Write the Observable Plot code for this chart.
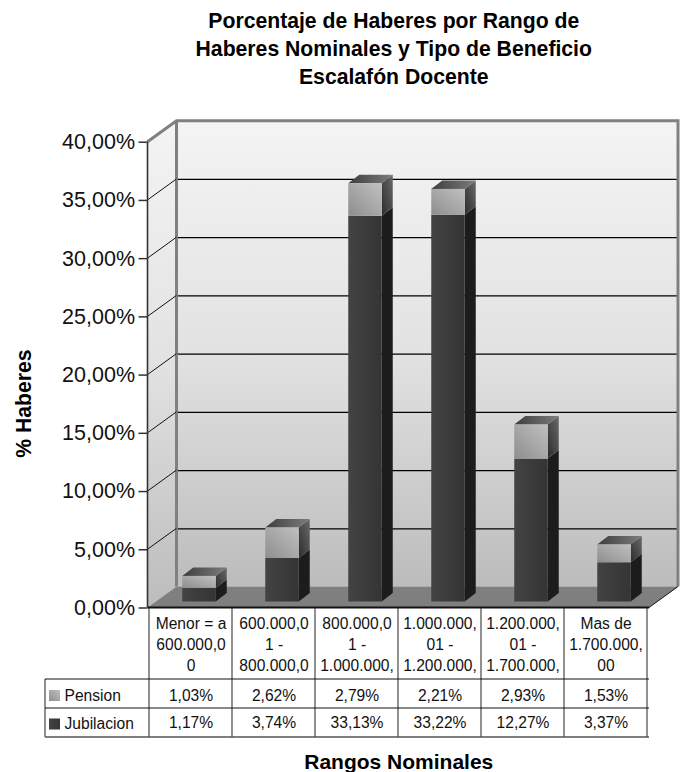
<!DOCTYPE html>
<html>
<head>
<meta charset="utf-8">
<style>
html,body{margin:0;padding:0;background:#fff;}
svg{display:block;}
</style>
<script src="https://cdn.jsdelivr.net/npm/d3@7"></script>
<script src="https://cdn.jsdelivr.net/npm/@observablehq/plot@0.6"></script>
</head>
<body>
<div id="chart"></div>
<script>
const categories = [
  "Menor = a\n600.000,0\n0",
  "600.000,0\n1 -\n800.000,0",
  "800.000,0\n1 -\n1.000.000,",
  "1.000.000,\n01 -\n1.200.000,",
  "1.200.000,\n01 -\n1.700.000,",
  "Mas de\n1.700.000,\n00"
];
const pension = [1.03, 2.62, 2.79, 2.21, 2.93, 1.53];
const jubilacion = [1.17, 3.74, 33.13, 33.22, 12.27, 3.37];
const seriesNames = ["Jubilacion", "Pension"];
const yTicks = [0, 5, 10, 15, 20, 25, 30, 35, 40];
const titleText = "Porcentaje de Haberes por Rango de\nHaberes Nominales y Tipo de Beneficio\nEscalafón Docente";
const yTitle = "% Haberes";
const xTitle = "Rangos Nominales";

const rows = [
  ...categories.map((c, i) => ({cat: c, serie: "Jubilacion", value: jubilacion[i]})),
  ...categories.map((c, i) => ({cat: c, serie: "Pension", value: pension[i]}))
];
const fmtPct = v => v.toFixed(2).replace(".", ",") + "%";

const FONT = "'Liberation Sans', Arial, sans-serif";
const NS = "http://www.w3.org/2000/svg";
const wallDx = 29, wallDy = -21;
const barDx = 8.5, barDy = -6, depthX = 11, depthY = -8.5, barInset = 24.75;
const rowLines = [71.5, 100.5, 129.5];   // table row rules, below the baseline
const legendLeft = 102.5;                // table's legend column, left of the frame

function el(tag, attrs, parent) {
  const e = document.createElementNS(NS, tag);
  for (const k in attrs) e.setAttribute(k, attrs[k]);
  if (parent) parent.appendChild(e);
  return e;
}
function gradient(defs, id, x1, y1, x2, y2, stops) {
  const g = el("linearGradient", {id, x1, y1, x2, y2}, defs);
  stops.forEach(([o, c]) => el("stop", {offset: o, "stop-color": c}, g));
}
const pts = a => a.map(p => p.join(",")).join(" ");

// Walls and floor of the 3D box, derived from the plot's frame.
function box(index, scales, values, dim) {
  const g = el("g", {});
  const defs = el("defs", {}, g);
  gradient(defs, "wall", 0, 0, 0, 1, [[0, "#f4f4f4"], [0.5, "#e2e2e2"], [1, "#bcbcbc"]]);
  gradient(defs, "gJub", 0, 0, 1, 0, [[0, "#434343"], [1, "#343434"]]);
  gradient(defs, "gPen", 0, 1, 1, 0, [[0, "#8e8e8e"], [1, "#c0c0c0"]]);
  gradient(defs, "gSide", 0, 1, 1, 0, [[0, "#2c2c2c"], [1, "#6a6a6a"]]);
  gradient(defs, "gTop", 0, 0, 1, 0, [[0, "#3e3e3e"], [1, "#7c7c7c"]]);
  const l = dim.marginLeft, r = dim.width - dim.marginRight;
  const t = dim.marginTop, b = dim.height - dim.marginBottom;
  el("rect", {x: l + wallDx, y: t + wallDy, width: r - l, height: b - t, fill: "url(#wall)"}, g);
  el("polygon", {points: pts([[l, b], [l + wallDx, b + wallDy], [l + wallDx, t + wallDy], [l, t]]), fill: "url(#wall)"}, g);
  el("polygon", {points: pts([[l, b], [r, b], [r + wallDx, b + wallDy], [l + wallDx, b + wallDy]]), fill: "#7f7f7f"}, g);
  return g;
}
// Frame edges and slanted gridlines on the left wall, over the wall and grid.
function boxLines(index, scales, values, dim) {
  const g = el("g", {});
  const l = dim.marginLeft, r = dim.width - dim.marginRight;
  const t = dim.marginTop, b = dim.height - dim.marginBottom;
  const edge = {fill: "none", stroke: "#808080", "stroke-width": 3};
  el("polyline", {points: pts([[l, t], [l + wallDx, t + wallDy], [r + wallDx, t + wallDy], [r + wallDx, b + wallDy]]), ...edge}, g);
  el("line", {x1: l + wallDx, y1: t + wallDy, x2: l + wallDx, y2: b + wallDy, ...edge}, g);
  yTicks.slice(1, -1).forEach(v => {
    const y = scales.y(v);
    el("line", {x1: l, y1: y, x2: l + wallDx, y2: y + wallDy, stroke: "#111", "stroke-width": 1}, g);
  });
  el("line", {x1: r, y1: b, x2: r + wallDx, y2: b + wallDy, stroke: "#111", "stroke-width": 1}, g);
  el("line", {x1: l, y1: t, x2: l, y2: b, stroke: "#333", "stroke-width": 1.6}, g);
  return g;
}
// Side and top faces, taken from each bar the library drew.
function faces(index, scales, values, dim, context, next) {
  const g = next(index, scales, values, dim, context);
  Array.from(g.querySelectorAll("rect")).forEach(rect => {
    const x = +rect.getAttribute("x"), y = +rect.getAttribute("y");
    const w = +rect.getAttribute("width"), h = +rect.getAttribute("height");
    const isPension = rect.getAttribute("fill") === "url(#gPen)";
    const side = el("polygon", {
      points: pts([[x + w, y], [x + w + depthX, y + depthY], [x + w + depthX, y + h + depthY], [x + w, y + h]]),
      fill: isPension ? "url(#gSide)" : "#1c1c1c"
    });
    g.insertBefore(side, rect);
    if (isPension) {
      const top = el("polygon", {
        points: pts([[x, y], [x + w, y], [x + w + depthX, y + depthY], [x + depthX, y + depthY]]),
        fill: "url(#gTop)"
      });
      g.insertBefore(top, rect);
    }
  });
  return g;
}
// Table rules and legend swatches.
function table(index, scales, values, dim) {
  const g = el("g", {});
  const l = dim.marginLeft, r = dim.width - dim.marginRight;
  const b = dim.height - dim.marginBottom;
  const bw = scales.x.bandwidth();
  const bottom = b + rowLines[2];
  const vStyle = {stroke: "#555", "stroke-width": 1.3};
  categories.forEach((c, i) => {
    const x = scales.x(c);
    el("line", {x1: x, y1: b, x2: x, y2: bottom, ...vStyle}, g);
    if (i === categories.length - 1) el("line", {x1: x + bw, y1: b, x2: x + bw, y2: bottom, ...vStyle}, g);
  });
  el("line", {x1: l - legendLeft, y1: b + rowLines[0], x2: l - legendLeft, y2: bottom, ...vStyle}, g);
  rowLines.forEach((d, i) => {
    el("line", {x1: l - legendLeft, y1: b + d, x2: r, y2: b + d, stroke: i === 2 ? "#555" : "#111", "stroke-width": i === 2 ? 1.5 : 1}, g);
  });
  el("line", {x1: l, y1: b, x2: r, y2: b, stroke: "#111", "stroke-width": 2}, g);
  el("rect", {x: l - 98.5, y: b + 82.5, width: 11, height: 11, fill: "url(#gPen)"}, g);
  el("rect", {x: l - 98.5, y: b + 111, width: 11, height: 11, fill: "url(#gJub)"}, g);
  return g;
}

const textBase = {fontFamily: FONT, fill: "#111", fontSize: 15.6};
const boldBase = {fontFamily: FONT, fill: "#000", fontWeight: "bold"};
const plot = Plot.plot({
  width: 685,
  height: 772,
  marginLeft: 147.5,
  marginRight: 36,
  marginTop: 141.7,
  marginBottom: 164.5,
  style: {background: "#fff", fontFamily: FONT},
  x: {type: "band", domain: categories, padding: 0, label: null, axis: null},
  y: {domain: [0, 40], label: null, axis: null},
  color: {type: "ordinal", domain: seriesNames, range: ["url(#gJub)", "url(#gPen)"]},
  marks: [
    box,
    Plot.ruleY(yTicks.slice(1, -1), {dx: wallDx, dy: wallDy, stroke: "#000", strokeWidth: 1.2}),
    boxLines,
    Plot.barY(rows, {
      x: "cat", y: "value", fill: "serie", order: seriesNames,
      insetLeft: barInset, insetRight: barInset, dx: barDx, dy: barDy,
      render: faces
    }),
    table,
    Plot.axisY({ticks: yTicks, tickFormat: v => v.toFixed(2).replace(".", ",") + "%", tickSize: 9, tickPadding: 4, fontSize: 21.5, fontFamily: FONT, stroke: "#333", fill: "#111", strokeWidth: 1.5, label: null, marginLeft: 147.5}),
    Plot.text(categories, {x: d => d, text: d => d, frameAnchor: "bottom", lineAnchor: "top", dy: 6, lineHeight: 1.36, ...textBase}),
    Plot.text(pension, {x: (d, i) => categories[i], text: fmtPct, frameAnchor: "bottom", lineAnchor: "middle", dy: 87.5, ...textBase}),
    Plot.text(jubilacion, {x: (d, i) => categories[i], text: fmtPct, frameAnchor: "bottom", lineAnchor: "middle", dy: 115, ...textBase}),
    Plot.text(["Pension"], {text: d => d, frameAnchor: "bottom-left", lineAnchor: "middle", textAnchor: "start", dx: -83.5, dy: 88, ...textBase}),
    Plot.text(["Jubilacion"], {text: d => d, frameAnchor: "bottom-left", lineAnchor: "middle", textAnchor: "start", dx: -83.5, dy: 116, ...textBase}),
    Plot.text([titleText], {text: d => d, frameAnchor: "top", lineAnchor: "top", dx: -5, dy: -133.5, lineHeight: 1.31, fontSize: 21.2, ...boldBase}),
    Plot.text([xTitle], {text: d => d, frameAnchor: "bottom", lineAnchor: "middle", dy: 154, fontSize: 21, ...boldBase}),
    Plot.text([yTitle], {text: d => d, frameAnchor: "left", textAnchor: "middle", rotate: -90, dx: -124, dy: 28.5, fontSize: 21.2, ...boldBase})
  ]
});
document.getElementById("chart").appendChild(plot);
</script>
</body>
</html>
